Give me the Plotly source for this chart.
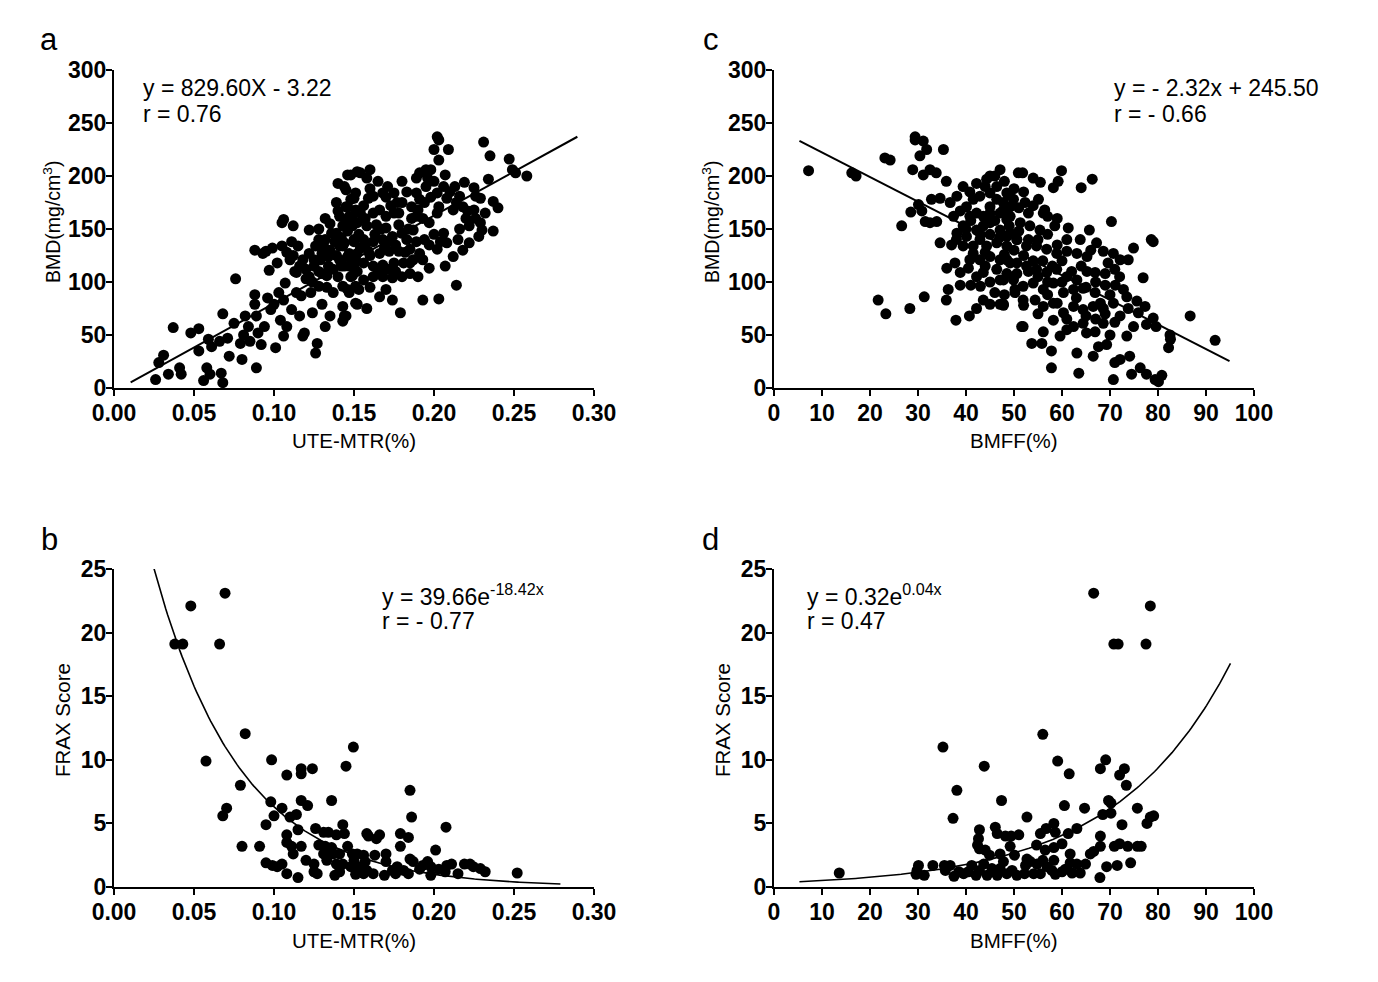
import numpy as np
import plotly.graph_objects as go

W, H = 1378, 982
FONT = "Arial, Liberation Sans, sans-serif"

# ---------------- Panel a: UTE-MTR vs BMD ----------------
a_pts = [
    (0.026, 8), (0.028, 24), (0.031, 31), (0.034, 13), (0.037, 57), (0.041, 19), (0.042, 13),
    (0.048, 52), (0.053, 56), (0.053, 35), (0.056, 7), (0.058, 19), (0.060, 13), (0.061, 39),
    (0.059, 46), (0.066, 44), (0.067, 14), (0.068, 5), (0.068, 70), (0.071, 47), (0.072, 30),
    (0.075, 61), (0.076, 103), (0.080, 27), (0.079, 42), (0.081, 50), (0.082, 68), (0.084, 58),
    (0.085, 44), (0.088, 88), (0.088, 79), (0.089, 19), (0.088, 130), (0.089, 68), (0.090, 52),
    (0.092, 41), (0.093, 127), (0.094, 58), (0.095, 129), (0.096, 85), (0.097, 111), (0.098, 74),
    (0.099, 132), (0.100, 79), (0.101, 38), (0.102, 118), (0.103, 90), (0.104, 64), (0.105, 156),
    (0.106, 159), (0.105, 134), (0.106, 83), (0.106, 49), (0.107, 99), (0.108, 58), (0.110, 121),
    (0.111, 74), (0.111, 138), (0.112, 153), (0.113, 110), (0.114, 90), (0.115, 134), (0.116, 68),
    (0.117, 87), (0.118, 49), (0.119, 52), (0.120, 103), (0.122, 149), (0.122, 127), (0.123, 90),
    (0.124, 71), (0.125, 115), (0.126, 33), (0.127, 42), (0.128, 140), (0.128, 96), (0.129, 121),
    (0.130, 79), (0.131, 134), (0.132, 58), (0.133, 106), (0.134, 124), (0.135, 68), (0.136, 146),
    (0.137, 90), (0.139, 175), (0.140, 167), (0.140, 193), (0.141, 134), (0.142, 115), (0.143, 77),
    (0.144, 68), (0.145, 187), (0.145, 156), (0.146, 201), (0.147, 127), (0.148, 178), (0.149, 106),
    (0.150, 140), (0.151, 80), (0.152, 204),
    (0.126, 134), (0.132, 140), (0.139, 146), (0.143, 134), (0.147, 115), (0.151, 121), (0.141, 121),
    (0.134, 115), (0.130, 108), (0.143, 96), (0.147, 90), (0.151, 96), (0.125, 121), (0.118, 121),
    (0.114, 109), (0.122, 105), (0.130, 127), (0.143, 153), (0.147, 162), (0.151, 168), (0.149, 153),
    (0.141, 162), (0.145, 171), (0.151, 184),
    (0.202, 237), (0.203, 234), (0.200, 225), (0.209, 225), (0.203, 215), (0.231, 232), (0.235, 219),
    (0.247, 216), (0.249, 206), (0.251, 203), (0.258, 200), (0.234, 197), (0.219, 194), (0.225, 189),
    (0.226, 181), (0.229, 179), (0.237, 176), (0.216, 181), (0.214, 175), (0.212, 168), (0.218, 171),
    (0.221, 167), (0.225, 168), (0.229, 156), (0.230, 149), (0.237, 148), (0.222, 153), (0.228, 143),
    (0.222, 137), (0.215, 140), (0.212, 124), (0.208, 137), (0.204, 138), (0.202, 131), (0.206, 146),
    (0.207, 115), (0.214, 97), (0.203, 84), (0.193, 83), (0.179, 71), (0.197, 113), (0.193, 121),
    (0.191, 127), (0.197, 156), (0.193, 160), (0.186, 171), (0.191, 178), (0.189, 184), (0.195, 190),
    (0.202, 184), (0.206, 190), (0.207, 201), (0.191, 203), (0.195, 206), (0.198, 206), (0.189, 198),
    (0.180, 195), (0.203, 171), (0.208, 179), (0.202, 165), (0.189, 162), (0.187, 149), (0.183, 140),
    (0.189, 138), (0.185, 118), (0.180, 105), (0.174, 104), (0.190, 105), (0.174, 83), (0.170, 93),
    (0.166, 86), (0.158, 75), (0.152, 79), (0.145, 68), (0.143, 63), (0.153, 93), (0.146, 93),
    (0.154, 203), (0.160, 206), (0.158, 198), (0.148, 201), (0.144, 190), (0.171, 190), (0.168, 184),
    (0.175, 184), (0.162, 181), (0.159, 179), (0.150, 179), (0.177, 175), (0.175, 165), (0.170, 162),
    (0.166, 168), (0.162, 165), (0.154, 165), (0.146, 171), (0.145, 153), (0.152, 156), (0.158, 153),
    (0.164, 154), (0.170, 151), (0.178, 154), (0.180, 146), (0.174, 143), (0.168, 140), (0.162, 138),
    (0.156, 140), (0.150, 138), (0.144, 137), (0.146, 124), (0.152, 127), (0.159, 129), (0.166, 127),
    (0.172, 129), (0.178, 129), (0.185, 131), (0.187, 121), (0.181, 118), (0.175, 118), (0.168, 116),
    (0.162, 115), (0.156, 118), (0.150, 115), (0.144, 115), (0.148, 105), (0.156, 102), (0.162, 105),
    (0.168, 105), (0.185, 108),
    (0.135, 130), (0.138, 138), (0.142, 142), (0.146, 148), (0.153, 145), (0.157, 135), (0.160, 125),
    (0.163, 145), (0.167, 150), (0.171, 138), (0.176, 135), (0.182, 128), (0.184, 150), (0.186, 160),
    (0.190, 168), (0.194, 175), (0.198, 180), (0.200, 195), (0.196, 198), (0.210, 185), (0.213, 190),
    (0.220, 160), (0.226, 160), (0.232, 165), (0.240, 170), (0.216, 150), (0.218, 130), (0.200, 145),
    (0.197, 135), (0.194, 140), (0.176, 110), (0.171, 112), (0.165, 110), (0.160, 95), (0.152, 110),
    (0.140, 105), (0.137, 112), (0.133, 95), (0.128, 110), (0.124, 100), (0.120, 112), (0.116, 115),
    (0.112, 125), (0.108, 128), (0.135, 155), (0.132, 160), (0.128, 150), (0.156, 172), (0.160, 188),
    (0.165, 195), (0.170, 180), (0.180, 175), (0.183, 185), (0.178, 165), (0.173, 172), (0.157, 160),
    (0.149, 160), (0.139, 125), (0.154, 132), (0.169, 132),
]
a_x = [p[0] for p in a_pts]
a_y = [p[1] for p in a_pts]
a_slope, a_icpt = 829.60, -3.22
a_fit_x = [0.0104, 0.2896]

# ---------------- Panel c: BMFF vs BMD ----------------
c_pts = [
    (7.2, 205), (16.2, 203), (17.1, 200), (23.1, 217), (24.2, 215), (21.7, 83), (23.3, 70), (28.3, 75),
    (26.6, 153), (29.4, 237), (29.4, 234), (31.1, 233), (31.8, 225), (30.4, 219), (35.3, 225),
    (28.9, 206), (31.1, 201), (32.5, 206), (33.8, 203), (28.5, 166), (30.1, 173), (30.8, 167),
    (31.5, 157), (32.5, 156), (33.9, 157), (32.8, 178), (34.6, 179), (35.9, 195), (34.6, 137),
    (36.0, 113), (36.3, 93), (35.9, 83), (31.3, 86), (37.0, 135), (37.7, 118), (38.8, 109), (38.8, 97),
    (37.9, 64), (40.7, 68), (42.2, 75), (43.6, 83), (45.0, 79), (47.1, 79), (47.8, 78), (40.5, 113),
    (42.2, 105), (43.6, 109), (47.1, 102), (36.7, 175), (38.1, 181), (39.4, 190), (40.8, 185),
    (42.2, 193), (44.3, 197), (45.0, 200), (47.1, 206), (46.4, 190), (48.8, 182), (49.2, 171),
    (37.4, 162), (38.8, 167), (40.1, 171), (41.5, 178), (42.9, 181), (45.0, 184), (46.4, 178),
    (47.8, 175), (39.4, 153), (40.8, 162), (42.2, 165), (43.6, 162), (45.0, 171), (47.1, 165),
    (48.5, 159), (38.1, 146), (40.1, 143), (42.2, 149), (43.6, 153), (45.0, 156), (47.1, 149),
    (49.2, 146), (39.4, 134), (41.5, 134), (42.9, 140), (44.3, 134), (46.4, 137), (48.5, 134),
    (50.6, 140), (40.8, 121), (42.9, 121), (45.0, 124), (47.1, 121), (49.2, 118), (50.6, 108),
    (41.5, 127), (44.0, 115), (46.4, 112), (48.5, 108), (49.9, 102), (50.2, 90), (50.9, 203), (51.6, 58),
    (51.8, 203), (54.0, 198), (55.5, 194), (58.2, 189), (59.2, 195), (59.9, 205), (64.0, 189),
    (66.3, 197), (48.5, 184), (49.9, 178), (52.3, 175), (55.1, 178), (56.1, 165), (56.4, 168),
    (47.8, 168), (49.2, 162), (51.3, 156), (53.3, 153), (55.4, 149), (58.5, 153), (61.3, 151),
    (65.7, 149), (70.3, 157), (79.0, 138), (78.6, 140), (63.8, 140), (67.2, 137), (48.5, 143),
    (50.6, 140), (52.6, 134), (54.7, 134), (56.8, 131), (58.9, 127), (61.0, 129), (63.1, 127),
    (65.2, 124), (68.6, 129), (70.7, 127), (72.1, 121), (73.8, 121), (74.9, 132), (69.6, 118),
    (76.9, 104), (48.5, 121), (50.6, 118), (52.6, 115), (54.7, 112), (56.8, 109), (58.9, 112),
    (61.0, 105), (63.1, 102), (65.2, 110), (66.9, 109), (47.8, 102), (49.9, 105), (51.9, 96),
    (50.2, 93), (54.0, 99), (56.1, 93), (58.2, 99), (60.3, 90), (62.4, 93), (64.4, 94), (66.9, 90),
    (69.0, 97), (71.1, 97), (72.8, 93), (73.5, 86), (75.6, 82), (47.8, 79), (51.9, 83), (54.4, 83),
    (56.1, 77), (58.2, 80), (60.3, 71), (62.4, 77), (64.4, 74), (66.5, 77), (68.6, 75), (70.7, 80),
    (72.1, 68), (73.8, 75), (75.9, 71), (77.3, 77), (79.0, 66), (77.6, 60), (79.6, 58), (82.5, 50),
    (82.6, 46), (82.2, 38), (86.7, 68), (91.9, 45), (51.9, 58), (53.7, 42), (55.8, 42), (56.1, 53),
    (57.8, 35), (59.6, 49), (61.0, 55), (63.1, 33), (65.1, 52), (66.9, 53), (67.6, 39), (69.3, 41),
    (70.0, 50), (71.0, 24), (72.1, 27), (70.7, 8), (66.5, 30), (63.5, 14), (57.8, 19), (74.1, 30),
    (74.5, 13), (76.3, 19), (77.6, 13), (79.4, 8), (80.1, 6), (80.8, 12), (73.5, 49), (74.9, 58),
    (68.6, 61), (64.4, 61), (62.4, 58), (58.2, 64),
    (38, 140), (40, 150), (41, 158), (43, 145), (44, 128), (45, 145), (46, 158), (47, 142), (48, 126),
    (49, 153), (50, 130), (51, 148), (52, 125), (53, 140), (53, 110), (54, 120), (55, 140), (55, 105),
    (56, 120), (57, 145), (57, 100), (58, 115), (59, 135), (60, 100), (60, 120), (61, 140), (62, 110),
    (63, 85), (64, 115), (65, 95), (66, 130), (67, 100), (68, 80), (69, 108), (70, 88), (71, 112),
    (72, 105), (45, 165), (44, 190), (46, 200), (48, 195), (50, 188), (52, 185), (53, 165), (51, 170),
    (54, 172), (57, 162), (59, 160), (41, 97), (43, 96), (45, 100), (46, 90), (48, 88), (52, 78),
    (55, 70), (57, 88), (59, 80), (61, 65), (65, 68), (67, 65), (69, 70), (71, 62),
]
c_x = [p[0] for p in c_pts]
c_y = [p[1] for p in c_pts]
c_slope, c_icpt = -2.32, 245.50
c_fit_x = [5.3, 94.9]

# ---------------- Panel b: UTE-MTR vs FRAX ----------------
b_pts = [
    (0.0694, 23.1), (0.048, 22.1), (0.038, 19.1), (0.043, 19.1), (0.066, 19.1), (0.082, 12.05),
    (0.0575, 9.9), (0.0985, 10.0), (0.1496, 11.0), (0.145, 9.5), (0.108, 8.8), (0.117, 9.3),
    (0.117, 8.9), (0.124, 9.3), (0.079, 8.0), (0.185, 7.6), (0.186, 5.5), (0.136, 6.8), (0.117, 6.8),
    (0.121, 6.4), (0.098, 6.7), (0.0704, 6.2), (0.068, 5.6), (0.100, 5.6), (0.105, 6.2), (0.110, 5.5),
    (0.114, 5.7), (0.115, 4.5), (0.095, 4.9), (0.108, 4.1), (0.108, 3.5), (0.112, 2.6), (0.117, 3.2),
    (0.080, 3.2), (0.091, 3.2), (0.095, 1.9), (0.099, 1.7), (0.102, 1.6), (0.105, 1.8), (0.108, 1.05),
    (0.115, 0.74), (0.120, 2.1), (0.125, 1.8), (0.125, 1.2), (0.126, 4.6), (0.131, 4.3), (0.134, 4.3),
    (0.139, 4.1), (0.143, 4.9), (0.144, 4.2), (0.128, 3.3), (0.132, 3.2), (0.136, 3.1), (0.131, 2.6),
    (0.133, 2.1), (0.137, 2.6), (0.141, 2.6), (0.139, 1.8), (0.141, 1.2), (0.138, 0.92), (0.143, 1.8),
    (0.146, 3.2), (0.149, 2.6), (0.152, 2.6), (0.150, 2.1), (0.153, 1.6), (0.148, 1.6), (0.151, 1.0),
    (0.156, 2.5), (0.157, 2.0), (0.158, 4.2), (0.159, 4.0), (0.164, 3.8), (0.166, 4.1), (0.163, 2.5),
    (0.158, 1.3), (0.162, 1.05), (0.156, 1.05), (0.170, 2.6), (0.170, 2.0), (0.169, 0.92), (0.174, 1.3),
    (0.177, 1.6), (0.179, 3.2), (0.179, 4.2), (0.184, 3.9), (0.181, 1.3), (0.185, 2.2), (0.187, 2.0),
    (0.184, 1.05), (0.191, 1.4), (0.193, 1.7), (0.196, 2.0), (0.198, 1.6), (0.198, 0.92), (0.201, 2.9),
    (0.203, 1.4), (0.2075, 4.7), (0.207, 1.2), (0.208, 1.7), (0.211, 1.8), (0.215, 1.05), (0.219, 1.8),
    (0.2225, 1.8), (0.2246, 1.6), (0.229, 1.45), (0.232, 1.2), (0.252, 1.1), (0.176, 1.05),
    (0.127, 1.05), (0.111, 3.2),
]
b_x = [p[0] for p in b_pts]
b_y = [p[1] for p in b_pts]
b_amp, b_rate = 39.66, -18.42
b_fit_range = (0.0246, 0.279)

# ---------------- Panel d: BMFF vs FRAX ----------------
d_pts = [
    (66.6, 23.1), (78.4, 22.1), (70.8, 19.1), (71.7, 19.1), (77.5, 19.1), (56.0, 12.0), (35.2, 11.0),
    (43.8, 9.5), (59.1, 9.9), (61.5, 8.9), (69.1, 10.0), (68.0, 9.3), (73.0, 9.3), (72.0, 8.8),
    (73.4, 8.0), (38.1, 7.6), (37.3, 5.4), (47.4, 6.8), (60.5, 6.4), (64.7, 6.2), (69.7, 6.8),
    (70.2, 6.6), (68.5, 5.7), (70.2, 5.8), (75.7, 6.2), (78.4, 5.5), (79.1, 5.6), (77.7, 5.0),
    (72.5, 4.9), (52.7, 5.5), (42.8, 4.5), (42.6, 3.8), (42.4, 3.3), (42.8, 3.0), (46.1, 4.7),
    (46.5, 4.2), (48.2, 4.0), (49.2, 3.2), (49.4, 4.0), (51.0, 4.1), (55.5, 4.2), (56.7, 4.6),
    (58.3, 5.0), (58.6, 4.3), (61.3, 4.2), (63.1, 4.6), (60.0, 3.4), (58.3, 3.1), (56.5, 2.9),
    (54.7, 3.3), (44.0, 2.9), (44.9, 2.5), (47.1, 2.6), (50.1, 2.5), (52.7, 2.2), (61.7, 2.6),
    (65.9, 2.6), (66.6, 2.8), (68.0, 3.2), (68.0, 4.0), (72.0, 3.4), (70.9, 3.2), (73.7, 3.2),
    (75.7, 3.2), (76.5, 3.2), (71.5, 1.7), (69.3, 1.6), (74.3, 1.9), (67.9, 0.74), (64.9, 1.8),
    (63.8, 1.1), (63.1, 1.8), (62.1, 1.1), (61.7, 1.9), (60.7, 1.4), (60.0, 1.2), (58.3, 2.1),
    (57.9, 1.3), (58.6, 1.0), (56.9, 1.6), (56.0, 2.1), (55.5, 1.05), (54.8, 1.8), (54.1, 1.05),
    (53.4, 2.0), (52.4, 1.7), (52.2, 1.05), (50.6, 0.92), (49.6, 1.3), (48.5, 1.05), (47.8, 2.0),
    (47.1, 1.45), (46.5, 0.92), (45.4, 1.45), (44.4, 0.92), (43.7, 1.8), (42.8, 1.3), (42.1, 0.92),
    (41.2, 1.7), (40.5, 1.2), (39.5, 1.05), (38.5, 1.2), (37.5, 0.84), (36.7, 1.7), (35.5, 1.7),
    (35.7, 1.3), (33.1, 1.7), (31.3, 0.92), (30.1, 1.7), (29.8, 1.3), (29.6, 1.0), (13.6, 1.1),
]
d_x = [p[0] for p in d_pts]
d_y = [p[1] for p in d_pts]
d_amp, d_rate = 0.33, 0.0418
d_fit_range = (5.3, 95.1)

# ---------------- Figure ----------------
fig = go.Figure()
mk = dict(color="black", size=11, line=dict(width=0))

fig.add_trace(go.Scatter(x=a_x, y=a_y, mode="markers", marker=mk, xaxis="x", yaxis="y", cliponaxis=False))
fig.add_trace(go.Scatter(x=a_fit_x, y=[a_slope * v + a_icpt for v in a_fit_x], mode="lines",
                         line=dict(color="black", width=2), xaxis="x", yaxis="y"))

fig.add_trace(go.Scatter(x=c_x, y=c_y, mode="markers", marker=mk, xaxis="x2", yaxis="y2", cliponaxis=False))
fig.add_trace(go.Scatter(x=c_fit_x, y=[c_slope * v + c_icpt for v in c_fit_x], mode="lines",
                         line=dict(color="black", width=2), xaxis="x2", yaxis="y2"))

fig.add_trace(go.Scatter(x=b_x, y=b_y, mode="markers", marker=mk, xaxis="x3", yaxis="y3", cliponaxis=False))
bx = np.linspace(*b_fit_range, 200)
fig.add_trace(go.Scatter(x=bx, y=b_amp * np.exp(b_rate * bx), mode="lines",
                         line=dict(color="black", width=1.6), xaxis="x3", yaxis="y3"))

fig.add_trace(go.Scatter(x=d_x, y=d_y, mode="markers", marker=mk, xaxis="x4", yaxis="y4", cliponaxis=False))
dx = np.linspace(*d_fit_range, 200)
fig.add_trace(go.Scatter(x=dx, y=d_amp * np.exp(d_rate * dx), mode="lines",
                         line=dict(color="black", width=1.6), xaxis="x4", yaxis="y4"))


def hx(p):
    return p / W


def vy(p):
    return 1 - p / H


tickfont = dict(family=FONT, size=23, color="black", weight="bold")
common = dict(showline=True, linewidth=2, linecolor="black", ticks="outside", ticklen=6, tickwidth=2,
              tickcolor="black", showgrid=False, zeroline=False, tickfont=tickfont, fixedrange=True,
              automargin=False)
xcommon = dict(common, ticklabelstandoff=-3)
ycommon = dict(common, ticklabelstandoff=-5)

mtr_ticks = [0.0, 0.05, 0.10, 0.15, 0.20, 0.25, 0.30]
mtr_text = ["0.00", "0.05", "0.10", "0.15", "0.20", "0.25", "0.30"]
bmff_ticks = [0, 10, 20, 30, 40, 50, 60, 70, 80, 90, 100]
bmd_ticks = [0, 50, 100, 150, 200, 250, 300]
frax_ticks = [0, 5, 10, 15, 20, 25]

dom_left = [hx(114), hx(594)]
dom_right = [hx(774), hx(1254)]
dom_top = [vy(388), vy(70)]
dom_bot = [vy(887), vy(569)]

fig.update_layout(
    template="none",
    width=W, height=H, margin=dict(l=0, r=0, t=0, b=0, pad=0, autoexpand=False), showlegend=False,
    plot_bgcolor="white", paper_bgcolor="white",
    xaxis=dict(domain=dom_left, range=[0, 0.30], tickvals=mtr_ticks, ticktext=mtr_text, anchor="y", **xcommon),
    yaxis=dict(domain=dom_top, range=[0, 300], tickvals=bmd_ticks, anchor="x", **ycommon),
    xaxis2=dict(domain=dom_right, range=[0, 100], tickvals=bmff_ticks, anchor="y2", **xcommon),
    yaxis2=dict(domain=dom_top, range=[0, 300], tickvals=bmd_ticks, anchor="x2", **ycommon),
    xaxis3=dict(domain=dom_left, range=[0, 0.30], tickvals=mtr_ticks, ticktext=mtr_text, anchor="y3", **xcommon),
    yaxis3=dict(domain=dom_bot, range=[0, 25], tickvals=frax_ticks, anchor="x3", **ycommon),
    xaxis4=dict(domain=dom_right, range=[0, 100], tickvals=bmff_ticks, anchor="y4", **xcommon),
    yaxis4=dict(domain=dom_bot, range=[0, 25], tickvals=frax_ticks, anchor="x4", **ycommon),
)

ann = []


def txt(x, y, s, size, xanchor="left", angle=0):
    ann.append(dict(x=hx(x), y=vy(y), xref="paper", yref="paper", text=s, showarrow=False,
                    xanchor=xanchor, yanchor="middle", textangle=angle,
                    font=dict(family=FONT, size=size, color="black")))


# panel letters
txt(49, 40, "a", 31, "center")
txt(49, 539, "b", 31, "center")
txt(711, 40, "c", 31, "center")
txt(711, 539, "d", 31, "center")

# equations
txt(141, 88, "y = 829.60X - 3.22", 23)
txt(141, 114, "r = 0.76", 23)
txt(1112, 88, "y = - 2.32x + 245.50", 23)
txt(1112, 114, "r = - 0.66", 23)
txt(380, 595, "y = 39.66e<sup>-18.42x</sup>", 23)
txt(380, 621, "r = - 0.77", 23)
txt(805, 595, "y = 0.32e<sup>0.04x</sup>", 23)
txt(805, 621, "r = 0.47", 23)

# axis titles
txt(354, 440, "UTE-MTR(%)", 20.5, "center")
txt(1014, 440, "BMFF(%)", 20.5, "center")
txt(354, 940, "UTE-MTR(%)", 20.5, "center")
txt(1014, 940, "BMFF(%)", 20.5, "center")
txt(52, 222, "BMD(mg/cm<sup>3</sup>)", 19.5, "center", -90)
txt(711, 222, "BMD(mg/cm<sup>3</sup>)", 19.5, "center", -90)
txt(62, 720, "FRAX Score", 20.5, "center", -90)
txt(722, 720, "FRAX Score", 20.5, "center", -90)

fig.update_layout(annotations=ann)

fig.write_html("out.html", config={"displayModeBar": False},
               post_script="document.body.style.margin='0';document.body.style.overflow='hidden';")
